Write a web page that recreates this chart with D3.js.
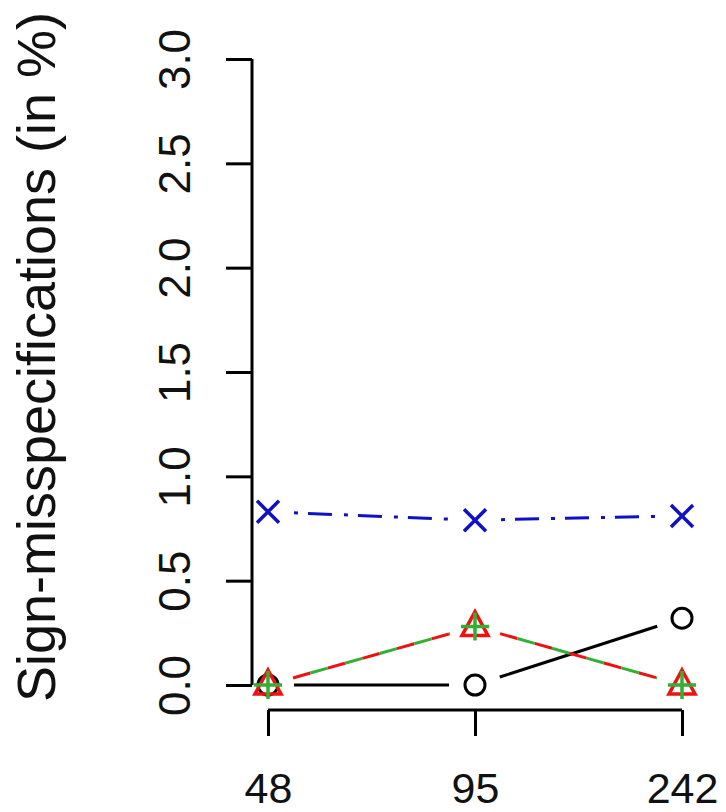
<!DOCTYPE html>
<html>
<head>
<meta charset="utf-8">
<script src="https://cdn.jsdelivr.net/npm/d3@7"></script>
<style>
  body { margin: 0; background: #fff; }
  svg { display: block; font-family: "Liberation Sans", Arial, sans-serif; }
</style>
</head>
<body>
<div id="chart"></div>
<script>
// sample sizes on the x axis
var sizes = ["48", "95", "242"];
// sign-misspecifications (in %) for each method
var circleVals = [0, 0, 0.32];
var triangleVals = [0, 0.28, 0];
var plusVals = [0, 0.28, 0];
var crossVals = [0.83, 0.79, 0.81];
var yTicks = [0, 0.5, 1, 1.5, 2, 2.5, 3];

var width = 726, height = 812;

var svg = d3.select("#chart").append("svg")
    .attr("width", width)
    .attr("height", height);

var x = d3.scalePoint().domain(sizes).range([268, 682]);
var y = d3.scaleLinear().domain([0, 3]).range([685, 59]);

// y axis
var yAxis = d3.axisLeft(y)
    .tickValues(yTicks)
    .tickFormat(d3.format(".1f"))
    .tickSize(26)
    .tickSizeOuter(0)
    .tickPadding(0);
var gy = svg.append("g")
    .attr("transform", "translate(252,0)")
    .call(yAxis);
gy.select(".domain").attr("stroke", "#000").attr("stroke-width", 3)
    .attr("d", "M0," + y(0) + "V" + y(3));
gy.selectAll(".tick line").attr("stroke", "#000").attr("stroke-width", 3);
gy.selectAll(".tick text")
    .attr("x", null).attr("dy", null)
    .attr("transform", "translate(-62,0) rotate(-90)")
    .attr("text-anchor", "middle")
    .attr("font-size", 44)
    .attr("fill", "#111");

// x axis
var xAxis = d3.axisBottom(x)
    .tickSize(26)
    .tickSizeOuter(0)
    .tickPadding(0);
var gx = svg.append("g")
    .attr("transform", "translate(0,710)")
    .call(xAxis);
gx.select(".domain").attr("stroke", "#000").attr("stroke-width", 3)
    .attr("d", "M" + x(sizes[0]) + ",0H" + x(sizes[2]));
gx.selectAll(".tick line").attr("stroke", "#000").attr("stroke-width", 3);
gx.selectAll(".tick text")
    .attr("y", 93).attr("dy", null)
    .attr("font-size", 43)
    .attr("fill", "#111");

// y label
svg.append("text")
    .attr("transform", "translate(55,357) rotate(-90)")
    .attr("text-anchor", "middle")
    .attr("font-size", 54)
    .attr("fill", "#111")
    .text("Sign-misspecifications (in %)");

// lines drawn R type="b" style: segments trimmed near the points
function drawSegments(vals, color, dash, offset) {
  var gap = 26;
  for (var i = 0; i < vals.length - 1; i++) {
    var x1 = x(sizes[i]), y1 = y(vals[i]);
    var x2 = x(sizes[i + 1]), y2 = y(vals[i + 1]);
    var len = Math.sqrt((x2 - x1) * (x2 - x1) + (y2 - y1) * (y2 - y1));
    var ux = (x2 - x1) / len, uy = (y2 - y1) / len;
    svg.append("line")
        .attr("x1", x1 + ux * gap).attr("y1", y1 + uy * gap)
        .attr("x2", x2 - ux * gap).attr("y2", y2 - uy * gap)
        .attr("stroke", color)
        .attr("stroke-width", 3)
        .attr("stroke-dasharray", dash)
        .attr("stroke-dashoffset", offset || 0);
  }
}

drawSegments(circleVals, "#000", null);
drawSegments(crossVals, "#1010c8", "4,10,24,12");
drawSegments(triangleVals, "#ee1111", "18,18");
drawSegments(plusVals, "#33b033", "18,18", 18);

// markers
var pts = function(vals) { return vals.map(function(v, i) { return [sizes[i], v]; }); };

svg.selectAll(".circ").data(pts(circleVals)).enter().append("circle")
    .attr("cx", function(d) { return x(d[0]); })
    .attr("cy", function(d) { return y(d[1]); })
    .attr("r", 10)
    .attr("fill", "none")
    .attr("stroke", "#000")
    .attr("stroke-width", 3);

svg.selectAll(".tri").data(pts(triangleVals)).enter().append("path")
    .attr("transform", function(d) { return "translate(" + x(d[0]) + "," + y(d[1]) + ")"; })
    .attr("d", "M0,-15L13,9L-13,9Z")
    .attr("fill", "none")
    .attr("stroke", "#ee1111")
    .attr("stroke-width", 3.5);

svg.selectAll(".plus").data(pts(plusVals)).enter().append("path")
    .attr("transform", function(d) { return "translate(" + x(d[0]) + "," + y(d[1]) + ")"; })
    .attr("d", "M-14,0H14M0,-14V14")
    .attr("stroke", "#33b033")
    .attr("stroke-width", 3.5);

svg.selectAll(".cross").data(pts(crossVals)).enter().append("path")
    .attr("transform", function(d) { return "translate(" + x(d[0]) + "," + y(d[1]) + ")"; })
    .attr("d", "M-11,-11L11,11M11,-11L-11,11")
    .attr("stroke", "#1010c8")
    .attr("stroke-width", 3.5);
</script>
</body>
</html>
